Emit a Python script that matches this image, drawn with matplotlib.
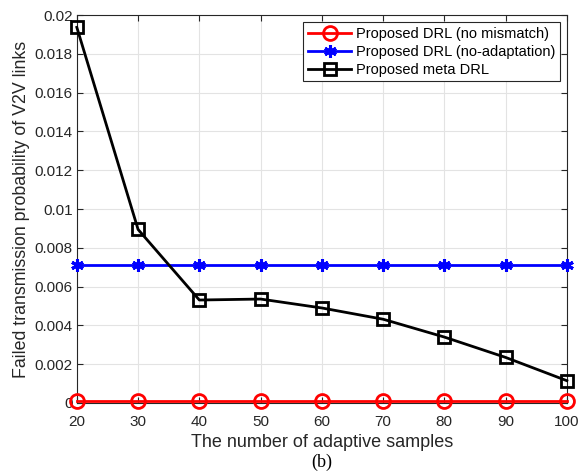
import matplotlib
matplotlib.use("Agg")
import matplotlib.pyplot as plt

# Data
samples = [20, 30, 40, 50, 60, 70, 80, 90, 100]
no_mismatch = [0.0001] * 9
no_adaptation = [0.0071] * 9
meta_drl = [0.01937, 0.00895, 0.00531, 0.00536, 0.0049, 0.00432, 0.0034, 0.00235, 0.00115]

plt.rcParams['font.family'] = ['Liberation Sans', 'DejaVu Sans']

fig = plt.figure(figsize=(5.82, 4.73), dpi=100)
ax = fig.add_axes([0.132, 0.148, 0.842, 0.820])

ax.plot(samples, no_mismatch, color='red', lw=2, marker='o', ms=10, mfc='none', mew=2,
        label='Proposed DRL (no mismatch)', clip_on=False, zorder=3)
ax.plot(samples, no_adaptation, color='blue', lw=2, marker=(6, 2, 0), ms=9, mew=2.2,
        label='Proposed DRL (no-adaptation)', clip_on=False, zorder=3)
ax.plot(samples, meta_drl, color='black', lw=2, marker='s', ms=8, mfc='none', mew=2,
        label='Proposed meta DRL', clip_on=False, zorder=3)

ax.set_xlim(20, 100)
ax.set_ylim(0, 0.02)
ax.set_xticks(range(20, 101, 10))
ax.set_yticks([0, 0.002, 0.004, 0.006, 0.008, 0.01, 0.012, 0.014, 0.016, 0.018, 0.02])
ax.set_yticklabels(['0', '0.002', '0.004', '0.006', '0.008', '0.01', '0.012', '0.014',
                    '0.016', '0.018', '0.02'])
ax.grid(True, color='#e3e3e3', lw=0.8)
ax.set_axisbelow(True)
ax.tick_params(direction='in', top=True, right=True, labelsize=11, colors='#262626',
               length=4)
ax.tick_params(axis='x', pad=9)
ax.tick_params(axis='y', pad=3)
for s in ax.spines.values():
    s.set_color('#262626')
    s.set_linewidth(0.8)

ax.set_xlabel('The number of adaptive samples', fontsize=13, color='#262626', labelpad=3)
ax.set_ylabel('Failed transmission probability of V2V links', fontsize=12.8, color='#262626',
              labelpad=3)

leg = ax.legend(loc='upper right', fontsize=10.5, frameon=True, fancybox=False,
                edgecolor='#262626', borderpad=0.3, labelspacing=0.28, handlelength=3.0,
                handletextpad=0.3, borderaxespad=0.5, framealpha=1)
leg.get_frame().set_linewidth(0.8)

fig.text(0.553, 0.004, '(b)', fontsize=13, family=['Liberation Serif', 'DejaVu Serif'],
         ha='center', va='bottom')

fig.savefig('out.png', dpi=100)
